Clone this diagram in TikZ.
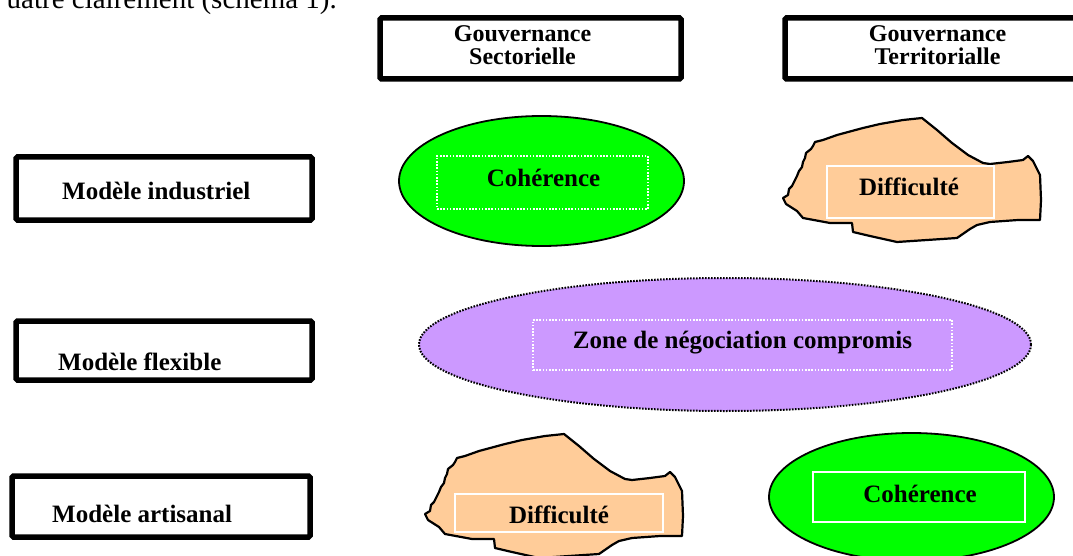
\documentclass[tikz,border=0pt]{standalone}
\usepackage{fontspec}
\setmainfont{Liberation Serif}
\usetikzlibrary{shapes.geometric}
\definecolor{vert}{HTML}{00FF00}
\definecolor{peche}{HTML}{FFCC99}
\definecolor{mauve}{HTML}{CC99FF}
\tikzset{
  thickbox/.style={draw, line width=5.5pt, rounded corners=1.5pt, inner sep=0pt},
  lbl/.style={font=\fontsize{25}{25}\selectfont\bfseries, inner sep=0pt},
  hdr/.style={font=\fontsize{24}{23}\selectfont\bfseries, inner sep=0pt, align=center},
  greenell/.style={ellipse, draw, line width=1.8pt, fill=vert, inner sep=0pt},
  purpleell/.style={ellipse, draw, line width=2pt, fill=mauve, inner sep=0pt, dash pattern=on 1.6pt off 1.4pt},
  dotrect/.style={draw=white, line width=1.6pt, dash pattern=on 1.6pt off 1.6pt, inner sep=0pt},
  solidrect/.style={draw=white, line width=1.8pt, inner sep=0pt},
  blob/.style={draw, line width=2.2pt, fill=peche, line join=round}
}
\begin{document}
\begin{tikzpicture}[x=1pt, y=-1pt]
\useasboundingbox (0,0) rectangle (1073,556);
\clip (0,0) rectangle (1073,556);

% partial line of running text
\node[font=\fontsize{29}{29}\selectfont, inner sep=0pt, anchor=base east] (intro) at (337,9) {uatre clairement (schéma 1).};

% column headers
\node[thickbox, minimum width=301pt, minimum height=61pt] (hsect) at (530.5,48.5) {};
\node[hdr, anchor=base] (tsect) at (522.5,65) {Gouvernance\\Sectorielle};
\node[thickbox, minimum width=305pt, minimum height=61pt] (hterr) at (937.5,48.5) {};
\node[hdr, anchor=base] (tterr) at (937.5,65) {Gouvernance\\Territorialle};

% row labels
\node[thickbox, minimum width=296pt, minimum height=63pt] (rind) at (164,188.5) {};
\node[lbl, anchor=base west] (tind) at (62,200) {Modèle industriel};
\node[thickbox, minimum width=296pt, minimum height=59pt] (rflex) at (164,350.5) {};
\node[lbl, anchor=base west] (tflex) at (58,370) {Modèle flexible};
\node[thickbox, minimum width=298pt, minimum height=61pt] (rart) at (161,506.5) {};
\node[lbl, anchor=base west] (tart) at (52,522) {Modèle artisanal};

% row 1
\node[greenell, minimum width=285pt, minimum height=130pt] (e1) at (541.5,181) {};
\node[dotrect, minimum width=211pt, minimum height=53pt] (r1) at (542.5,182.5) {};
\node[lbl, anchor=base] (c1) at (543.5,187) {Cohérence};

\draw[blob] (922,118) -- (937,130) -- (952,143) -- (968,155) -- (983,163) -- (990,164)
  -- (1008,162) -- (1023,160) -- (1028,156) -- (1033,161) -- (1040,175) -- (1041,200)
  -- (1040,220) -- (1018,220) -- (990,222) -- (977,225) -- (970,229) -- (957,238)
  -- (927,240) -- (897,242) -- (870,236) -- (853,232) -- (852,223) -- (830,223)
  -- (803,218) -- (797,211) -- (786,204) -- (783,198) -- (788,195) -- (789,189)
  -- (792,186) -- (795,180) -- (797,176) -- (799,171) -- (802,167) -- (803,162)
  -- (805,158) -- (806,153) -- (811,149) -- (813,146) -- (815,142) -- (823,140)
  -- (837,135) -- (863,128) -- (880,124) -- (903,120) -- cycle;
\node[solidrect, minimum width=167pt, minimum height=52pt] (r2) at (910.5,192) {};
\node[lbl, anchor=base] (d1) at (909,196) {Difficulté};

% row 2
\node[purpleell, minimum width=612pt, minimum height=133pt] (e2) at (725,344.5) {};
\node[dotrect, minimum width=419pt, minimum height=50pt] (r3) at (742.5,345) {};
\node[lbl, anchor=base] (z) at (742.5,348) {Zone de négociation compromis};

% row 3
\begin{scope}[shift={(-358,316)}]
\draw[blob] (922,118) -- (937,130) -- (952,143) -- (968,155) -- (983,163) -- (990,164)
  -- (1008,162) -- (1023,160) -- (1028,156) -- (1033,161) -- (1040,175) -- (1041,200)
  -- (1040,220) -- (1018,220) -- (990,222) -- (977,225) -- (970,229) -- (957,238)
  -- (927,240) -- (897,242) -- (870,236) -- (853,232) -- (852,223) -- (830,223)
  -- (803,218) -- (797,211) -- (786,204) -- (783,198) -- (788,195) -- (789,189)
  -- (792,186) -- (795,180) -- (797,176) -- (799,171) -- (802,167) -- (803,162)
  -- (805,158) -- (806,153) -- (811,149) -- (813,146) -- (815,142) -- (823,140)
  -- (837,135) -- (863,128) -- (880,124) -- (903,120) -- cycle;
\end{scope}
\node[solidrect, minimum width=208pt, minimum height=38pt] (r4) at (559,513) {};
\node[lbl, anchor=base] (d2) at (559,523) {Difficulté};

\node[greenell, minimum width=285pt, minimum height=128pt] (e3) at (911.5,497) {};
\node[solidrect, minimum width=212pt, minimum height=50pt] (r5) at (919,497) {};
\node[lbl, anchor=base] (c2) at (920,502) {Cohérence};
\end{tikzpicture}
\end{document}
